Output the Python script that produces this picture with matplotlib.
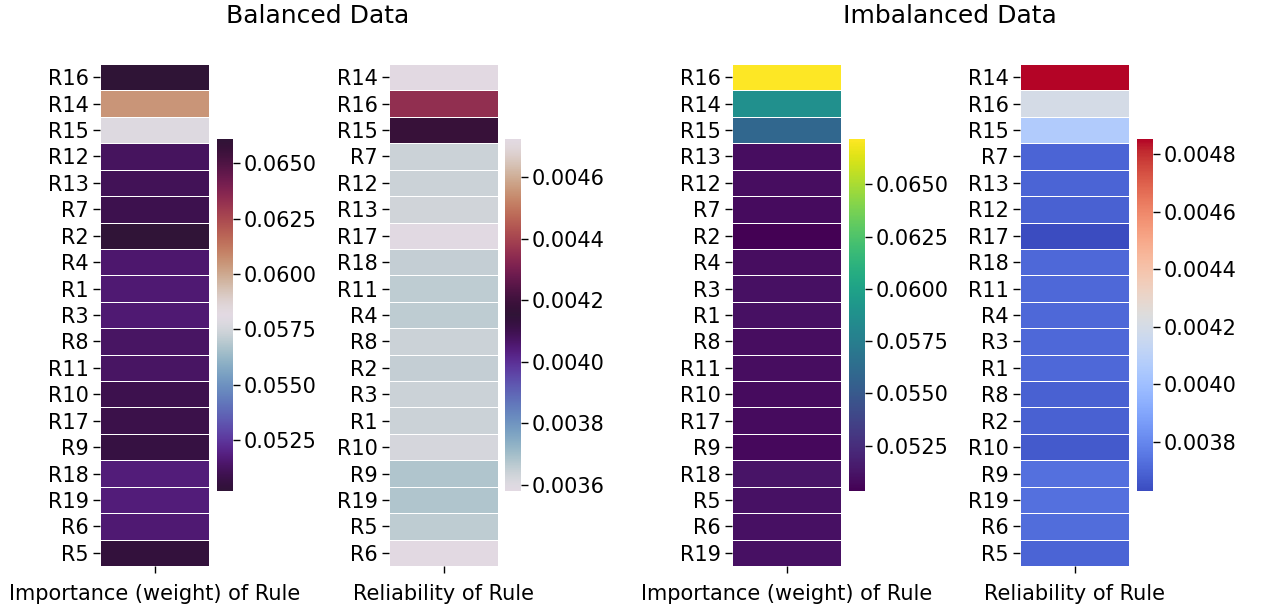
import matplotlib
matplotlib.use("Agg")
import matplotlib.pyplot as plt
import numpy as np

# ---------------- data ----------------
bal_imp_rules = ["R16", "R14", "R15", "R12", "R13", "R7", "R2", "R4", "R1", "R3",
                 "R8", "R11", "R10", "R17", "R9", "R18", "R19", "R6", "R5"]
bal_imp_vals = [0.0661, 0.0605, 0.0579, 0.0512, 0.0511, 0.0509, 0.0502, 0.0515, 0.0516, 0.0516,
                0.0513, 0.0513, 0.0509, 0.0508, 0.0506, 0.0517, 0.0517, 0.0516, 0.0504]

bal_rel_rules = ["R14", "R16", "R15", "R7", "R12", "R13", "R17", "R18", "R11", "R4",
                 "R8", "R2", "R3", "R1", "R10", "R9", "R19", "R5", "R6"]
bal_rel_vals = [0.004724, 0.00435, 0.00418, 0.00364, 0.00364, 0.00363, 0.003585, 0.00365, 0.00366, 0.00366,
                0.00364, 0.00365, 0.00364, 0.00364, 0.00362, 0.00368, 0.00368, 0.00366, 0.00358]

imb_imp_rules = ["R16", "R14", "R15", "R13", "R12", "R7", "R2", "R4", "R3", "R1",
                 "R8", "R11", "R10", "R17", "R9", "R18", "R5", "R6", "R19"]
imb_imp_vals = [0.06716, 0.0587, 0.0559, 0.0509, 0.0509, 0.0508, 0.05034, 0.0509, 0.0510, 0.0510,
                0.0509, 0.0509, 0.0508, 0.0508, 0.0507, 0.0512, 0.0511, 0.0510, 0.0510]

imb_rel_rules = ["R14", "R16", "R15", "R7", "R13", "R12", "R17", "R18", "R11", "R4",
                 "R3", "R1", "R8", "R2", "R10", "R9", "R19", "R6", "R5"]
imb_rel_vals = [0.004852, 0.00420, 0.00406, 0.00370, 0.00370, 0.00369, 0.003629, 0.00371, 0.00371, 0.00371,
                0.00371, 0.00371, 0.00369, 0.00369, 0.00367, 0.00373, 0.00373, 0.00372, 0.00370]

xlabel_imp = "Importance (weight) of Rule"
xlabel_rel = "Reliability of Rule"
titles = ["Balanced Data", "Imbalanced Data"]

bal_imp_ticks = [0.0525, 0.0550, 0.0575, 0.0600, 0.0625, 0.0650]
bal_rel_ticks = [0.0036, 0.0038, 0.0040, 0.0042, 0.0044, 0.0046]
imb_imp_ticks = [0.0525, 0.0550, 0.0575, 0.0600, 0.0625, 0.0650]
imb_rel_ticks = [0.0038, 0.0040, 0.0042, 0.0044, 0.0046, 0.0048]

# ---------------- figure ----------------
W, H = 1261, 610
fig = plt.figure(figsize=(W / 100, H / 100), dpi=100)

def px_axes(x0, x1, y0, y1):
    return fig.add_axes([x0 / W, 1 - y1 / H, (x1 - x0) / W, (y1 - y0) / H])

panels = [
    (bal_imp_rules, bal_imp_vals, "twilight_shifted", xlabel_imp, bal_imp_ticks, 100, 217),
    (bal_rel_rules, bal_rel_vals, "twilight", xlabel_rel, bal_rel_ticks, 389, 505),
    (imb_imp_rules, imb_imp_vals, "viridis", xlabel_imp, imb_imp_ticks, 732, 849),
    (imb_rel_rules, imb_rel_vals, "coolwarm", xlabel_rel, imb_rel_ticks, 1020, 1137),
]

FS = 15
for rules, vals, cmap, xlabel, ticks, hx, cx in panels:
    ax = px_axes(hx, hx + 109, 64, 566)
    data = np.array(vals).reshape(-1, 1)
    n = len(vals)
    mesh = ax.pcolormesh(np.arange(2), np.arange(n + 1), data, cmap=cmap,
                         vmin=min(vals), vmax=max(vals),
                         edgecolors="white", linewidth=0.5)
    ax.set_xlim(0, 1)
    ax.set_ylim(n, 0)
    ax.set_yticks(np.arange(n) + 0.5)
    ax.set_yticklabels(rules, fontsize=FS)
    ax.set_xticks([0.5])
    ax.set_xticklabels([""])
    ax.set_xlabel(xlabel, fontsize=FS, labelpad=5)
    ax.tick_params(axis="both", length=5, width=1, pad=3)
    for s in ax.spines.values():
        s.set_visible(False)

    cax = px_axes(cx, cx + 16, 139, 491)
    cb = fig.colorbar(mesh, cax=cax)
    cb.set_ticks(ticks)
    cb.set_ticklabels([f"{t:.4f}" for t in ticks])
    cb.ax.tick_params(labelsize=FS, length=5, width=1, pad=3)
    cb.outline.set_visible(False)

fig.text(318 / W, 1 - 16 / H, titles[0], ha="center", va="center", fontsize=18)
fig.text(950 / W, 1 - 16 / H, titles[1], ha="center", va="center", fontsize=18)

fig.savefig("out.png", dpi=100, facecolor="white")
